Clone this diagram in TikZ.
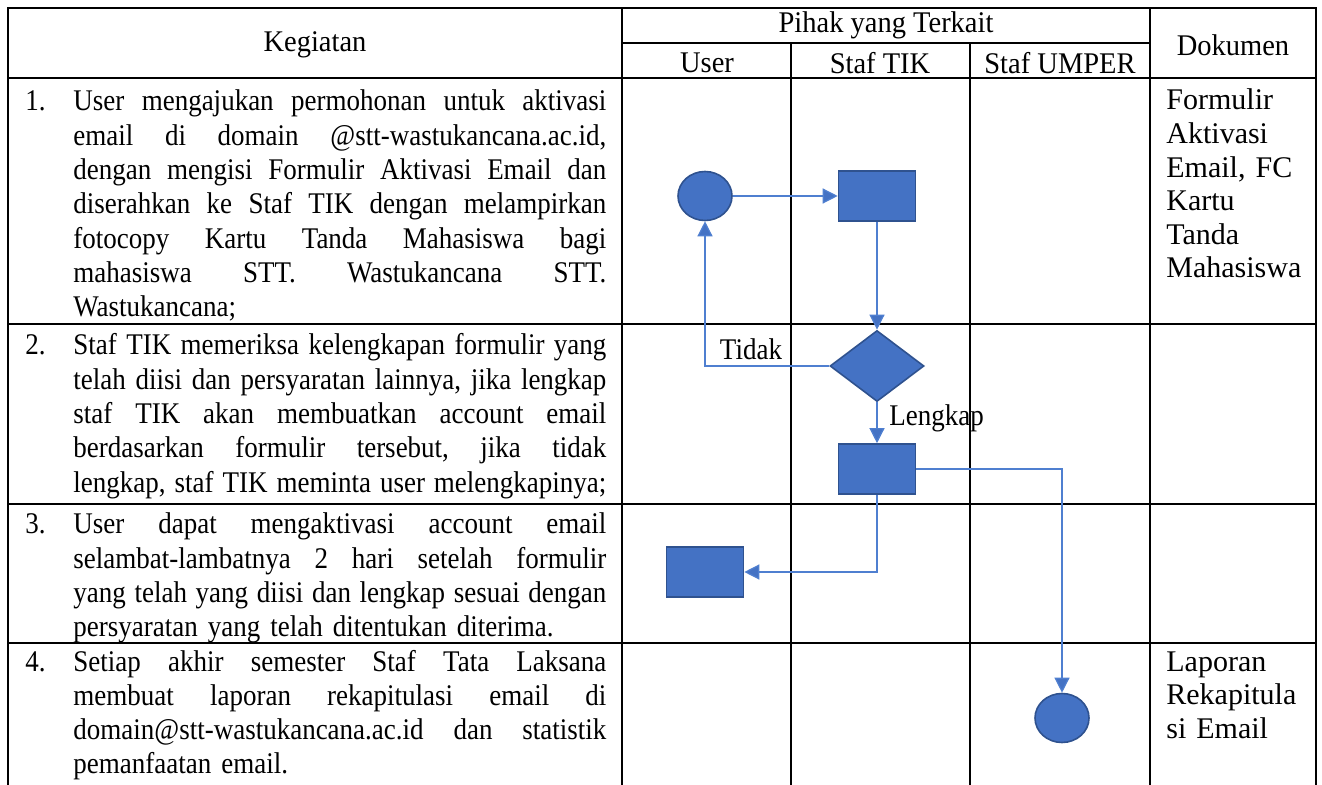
\documentclass[tikz,border=0pt]{standalone}
\usepackage{fontspec}
\setmainfont{Liberation Serif}
\newfontfamily\bodyf[FakeStretch=0.9]{Liberation Serif}
\newfontfamily\headf[FakeStretch=0.95]{Liberation Serif}
\usetikzlibrary{shapes.geometric,arrows.meta}
\definecolor{fillb}{HTML}{4472C4}
\definecolor{edgeb}{HTML}{2F528F}
\definecolor{lineb}{HTML}{4F7FD0}
\newcommand\jbox[1]{\leavevmode{\spaceskip=0.22em plus 1fil minus 0.08em\xspaceskip=\spaceskip\hbox to 266.5pt{#1}}}
\newcommand\jl[1]{\jbox{#1}\\}
\frenchspacing
\begin{document}
\begin{tikzpicture}[x=0.5pt,y=-0.5pt,
  grid/.style={line width=1.3pt, black},
  flow/.style={draw=lineb, line width=0.65pt, -{Triangle[length=7.5pt,width=7.5pt,fill=fillb]}},
  shp/.style={fill=fillb, draw=edgeb, line width=0.8pt, inner sep=0pt},
  rbox/.style={shp, rectangle, minimum width=38.5pt, minimum height=25pt},
  oval/.style={shp, ellipse, minimum width=27pt, minimum height=24.5pt},
  dia/.style={shp, diamond, minimum width=47pt, minimum height=35.5pt},
  head/.style={inner sep=0pt, font=\headf\fontsize{15}{18}\selectfont},
  btext/.style={anchor=base west, inner sep=0pt, text width=266.5pt, align=left, font=\bodyf\fontsize{15}{17.15}\selectfont},
  num/.style={anchor=base west, inner sep=0pt, font=\bodyf\fontsize{15}{17.15}\selectfont},
  dtext/.style={anchor=base west, inner sep=0pt, text width=72pt, align=left, font=\fontsize{15}{16.8}\selectfont},
  lab/.style={inner sep=0pt, font=\bodyf\fontsize{15}{18}\selectfont}]
\useasboundingbox (0,0) rectangle (1322,785);
% table
\draw[grid] (8,785) -- (8,8) -- (1316,8) -- (1316,785);
\draw[grid] (622,8) -- (622,785);
\draw[grid] (1150,8) -- (1150,785);
\draw[grid] (791,43) -- (791,785);
\draw[grid] (970,43) -- (970,785);
\draw[grid] (622,43) -- (1150,43);
\draw[grid] (8,78) -- (1316,78);
\draw[grid] (8,324) -- (1316,324);
\draw[grid] (8,504) -- (1316,504);
\draw[grid] (8,643) -- (1316,643);
% headers
\node[head] (hkeg) at (315,45) {Kegiatan};
\node[head] (hpih) at (886,25) {Pihak yang Terkait};
\node[head] (huser) at (707,63) {User};
\node[head] (htik) at (880,63) {Staf TIK};
\node[head] (humper) at (1060,63) {Staf UMPER};
\node[head] (hdok) at (1233,45) {Dokumen};
% activities
\node[num] (n1) at (25,111) {1.};
\node[btext] (t1) at (73,111) {\jl{User mengajukan permohonan untuk aktivasi}\jl{email di domain @stt-wastukancana.ac.id,}\jl{dengan mengisi Formulir Aktivasi Email dan}\jl{diserahkan ke Staf TIK dengan melampirkan}\jl{fotocopy Kartu Tanda Mahasiswa bagi}\jl{mahasiswa STT. Wastukancana STT.}Wastukancana;};
\node[num] (n2) at (25,355) {2.};
\node[btext] (t2) at (73,355) {\jl{Staf TIK memeriksa kelengkapan formulir yang}\jl{telah diisi dan persyaratan lainnya, jika lengkap}\jl{staf TIK akan membuatkan account email}\jl{berdasarkan formulir tersebut, jika tidak}\jbox{lengkap, staf TIK meminta user melengkapinya;}};
\node[num] (n3) at (25,534) {3.};
\node[btext] (t3) at (73,534) {\jl{User dapat mengaktivasi account email}\jl{selambat-lambatnya 2 hari setelah formulir}\jl{yang telah yang diisi dan lengkap sesuai dengan}persyaratan yang telah ditentukan diterima.};
\node[num] (n4) at (25,671) {4.};
\node[btext] (t4) at (73,671) {\jl{Setiap akhir semester Staf Tata Laksana}\jl{membuat laporan rekapitulasi email di}\jl{domain@stt-wastukancana.ac.id dan statistik}pemanfaatan email.};
% documents
\node[dtext] (d1) at (1166,110) {Formulir\\Aktivasi\\Email, FC\\Kartu\\Tanda\\Mahasiswa};
\node[dtext] (d4) at (1166,671) {Laporan\\Rekapitula\\si Email};
% flow shapes
\node[oval] (c1) at (705,196) {};
\node[rbox] (r1) at (877,196) {};
\node[dia] (dec) at (877,366) {};
\node[rbox] (r2) at (877,469) {};
\node[rbox] (r3) at (705,572) {};
\node[oval] (c2) at (1062,718) {};
% connectors
\draw[flow] (c1) -- (r1);
\draw[flow] (r1) -- (dec);
\draw[flow] (dec.west) -| (c1.south);
\draw[flow] (dec) -- (r2);
\draw[flow] (r2.east) -| (c2.north);
\draw[flow] (r2.south) |- (r3.east);
\node[lab] (ltidak) at (751,349) {Tidak};
\node[lab, anchor=west] (llengkap) at (889,418) {Lengkap};
\end{tikzpicture}
\end{document}
